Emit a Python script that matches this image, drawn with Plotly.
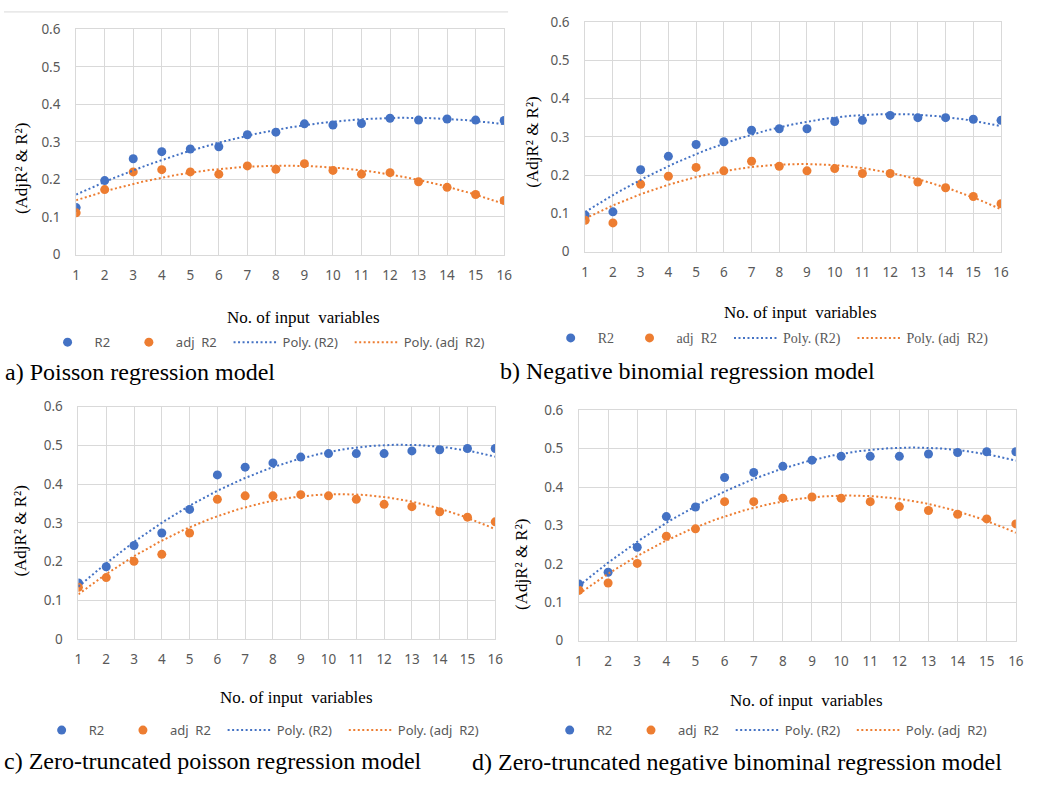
import numpy as np
import plotly.graph_objects as go

W, H = 1038, 787

x_vars = list(range(1, 17))

# a) Poisson regression model
a_r2 = [0.125, 0.197, 0.255, 0.274, 0.281, 0.287, 0.319, 0.326, 0.348, 0.345, 0.349, 0.363, 0.358, 0.361, 0.358, 0.357]
a_adj = [0.111, 0.173, 0.220, 0.226, 0.220, 0.214, 0.236, 0.227, 0.242, 0.224, 0.214, 0.218, 0.194, 0.179, 0.160, 0.144]
# b) Negative binomial regression model
b_r2 = [0.095, 0.104, 0.214, 0.249, 0.280, 0.287, 0.317, 0.321, 0.321, 0.340, 0.343, 0.356, 0.350, 0.350, 0.346, 0.343]
b_adj = [0.082, 0.075, 0.176, 0.197, 0.220, 0.211, 0.236, 0.223, 0.211, 0.217, 0.204, 0.204, 0.182, 0.167, 0.144, 0.125]
# c) Zero-truncated poisson regression model
c_r2 = [0.145, 0.187, 0.242, 0.274, 0.335, 0.424, 0.444, 0.455, 0.470, 0.479, 0.479, 0.479, 0.486, 0.489, 0.492, 0.492]
c_adj = [0.134, 0.159, 0.201, 0.219, 0.274, 0.361, 0.370, 0.370, 0.373, 0.370, 0.361, 0.348, 0.342, 0.329, 0.315, 0.303]
# d) Zero-truncated negative binominal regression model
d_r2 = [0.147, 0.178, 0.243, 0.323, 0.348, 0.425, 0.438, 0.454, 0.470, 0.480, 0.480, 0.480, 0.486, 0.490, 0.492, 0.492]
d_adj = [0.131, 0.150, 0.201, 0.272, 0.291, 0.362, 0.362, 0.371, 0.374, 0.371, 0.362, 0.349, 0.339, 0.329, 0.317, 0.304]

captions = ["a) Poisson regression model",
            "b) Negative binomial regression model",
            "c) Zero-truncated poisson regression model",
            "d) Zero-truncated negative binominal regression model"]
series_names = ["R2", "adj\u00a0 R2", "Poly. (R2)", "Poly. (adj\u00a0 R2)"]
x_title = "No. of input\u00a0 variables"
y_title = "(AdjR\u00b2 & R\u00b2)"
y_ticks = [0, 0.1, 0.2, 0.3, 0.4, 0.5, 0.6]
y_ticktext = ["0", "0.1", "0.2", "0.3", "0.4", "0.5", "0.6"]

BLUE = "#4472C4"
ORANGE = "#ED7D31"
GRID = "#d9d9d9"
TICK = "#595959"
NB = "\u00a0"

def px(x):
    return x / W

def py(y):
    return 1 - y / H

# panel geometry in pixels: (x0, x1, ytop, ybottom)
panels = [
    dict(r2=a_r2, adj=a_adj, box=(73, 506, 20.7, 251.3), ytitle=(17, 163), xtitle=(303, 316),
         legend=(37, 341), caption=(-1, 372), legfont="Noto Sans", legsize=13, pads=[2, 2, 2]),
    dict(r2=b_r2, adj=b_adj, box=(588, 1008.7, 13.3, 248.3), ytitle=(535, 136), xtitle=(806, 311),
         legend=(546, 337), caption=(500, 370), legfont="Liberation Serif", legsize=14, pads=[1, 2, 2]),
    dict(r2=c_r2, adj=c_adj, box=(75.3, 497, 407, 645), ytitle=(17, 534), xtitle=(295.5, 705),
         legend=(31, 738), caption=(-2, 770), legfont="Noto Sans", legsize=13, pads=[2, 2, 2]),
    dict(r2=d_r2, adj=d_adj, box=(581.7, 1023.7, 410.7, 646.3), ytitle=(523, 568), xtitle=(812, 708),
         legend=(545, 738), caption=(471, 771), legfont="Noto Sans", legsize=13, pads=[2, 2, 2]),
]

fig = go.Figure()
annotations = []
layout = {}
xs = np.array(x_vars, dtype=float)
xfine = np.linspace(1, 16, 200)

for i, p in enumerate(panels):
    n = i + 1
    sfx = "" if n == 1 else str(n)
    leg = "legend" if n == 1 else f"legend{n}"
    xa, ya = f"x{sfx}", f"y{sfx}"
    x0, x1, yt, yb = p["box"]
    layout[f"xaxis{sfx}"] = dict(
        domain=[px(x0), px(x1)], anchor=ya, range=[1, 16], tickvals=x_vars,
        showgrid=True, gridcolor=GRID, gridwidth=1, showline=True, linecolor=GRID,
        linewidth=1, mirror=True, zeroline=False, ticks="",
        tickfont=dict(family="Noto Sans", size=13.5, color=TICK), ticklabelstandoff=8,
        fixedrange=True)
    layout[f"yaxis{sfx}"] = dict(
        domain=[py(yb), py(yt)], anchor=xa, range=[0, 0.6], tickvals=y_ticks, ticktext=y_ticktext,
        showgrid=True, gridcolor=GRID, gridwidth=1, showline=True, linecolor=GRID,
        linewidth=1, mirror=True, zeroline=False, ticks="",
        tickfont=dict(family="Noto Sans", size=13.5, color=TICK), ticklabelstandoff=12,
        fixedrange=True)
    lx, ly = p["legend"]
    layout[leg] = dict(orientation="h", x=px(lx), y=py(ly), xanchor="left", yanchor="middle",
                       font=dict(family=p["legfont"], size=p["legsize"], color=TICK),
                       bgcolor="rgba(0,0,0,0)", itemwidth=44, traceorder="normal")
    pads = [NB * k for k in p["pads"]] + [""]

    fig.add_trace(go.Scatter(x=x_vars, y=p["r2"], mode="markers", name=series_names[0] + pads[0],
                             marker=dict(color=BLUE, size=9), xaxis=xa, yaxis=ya, legend=leg))
    fig.add_trace(go.Scatter(x=x_vars, y=p["adj"], mode="markers", name=series_names[1] + pads[1],
                             marker=dict(color=ORANGE, size=9), xaxis=xa, yaxis=ya, legend=leg))
    c_r = np.polyfit(xs, np.array(p["r2"]), 2)
    c_a = np.polyfit(xs, np.array(p["adj"]), 2)
    fig.add_trace(go.Scatter(x=xfine, y=np.polyval(c_r, xfine), mode="lines", name=series_names[2] + pads[2],
                             line=dict(color=BLUE, width=2, dash="2px,2.5px"), xaxis=xa, yaxis=ya,
                             legend=leg))
    fig.add_trace(go.Scatter(x=xfine, y=np.polyval(c_a, xfine), mode="lines", name=series_names[3],
                             line=dict(color=ORANGE, width=2, dash="2px,2.5px"), xaxis=xa, yaxis=ya,
                             legend=leg))

    tx, ty = p["ytitle"]
    annotations.append(dict(text=y_title, x=px(tx), y=py(ty), xref="paper", yref="paper",
                            showarrow=False, textangle=-90, xanchor="center", yanchor="middle",
                            font=dict(family="Liberation Serif", size=17, color="#000000")))
    tx, ty = p["xtitle"]
    annotations.append(dict(text=x_title, x=px(tx), y=py(ty), xref="paper", yref="paper",
                            showarrow=False, xanchor="center", yanchor="middle",
                            font=dict(family="Liberation Serif", size=17, color="#000000")))
    tx, ty = p["caption"]
    annotations.append(dict(text=captions[i], x=px(tx), y=py(ty), xref="paper", yref="paper",
                            showarrow=False, xanchor="left", yanchor="middle",
                            font=dict(family="Liberation Serif", size=24, color="#000000")))

fig.update_layout(
    width=W, height=H, margin=dict(l=0, r=0, t=0, b=0),
    paper_bgcolor="white", plot_bgcolor="white", showlegend=True,
    annotations=annotations,
    shapes=[dict(type="line", xref="paper", yref="paper", x0=0, x1=px(510), y0=py(3), y1=py(3),
                 line=dict(color=GRID, width=1))],
    **layout)

fig.write_html("out.html", config={"displayModeBar": False},
               post_script="document.body.style.margin='0';document.body.style.overflow='hidden';")
